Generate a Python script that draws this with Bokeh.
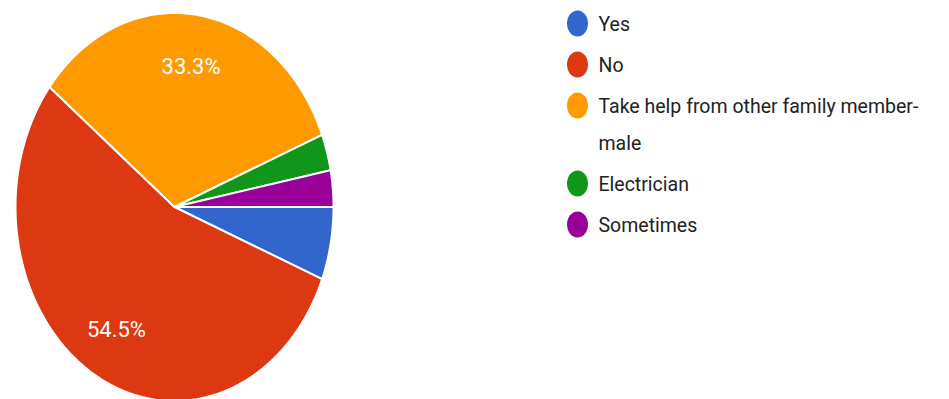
import numpy as np
from bokeh.plotting import figure
from bokeh.models import Range1d
from bokeh.core.properties import value
from bokeh.embed import file_html
from bokeh.resources import INLINE

# ---- data ----
categories = ["Yes", "No", "Take help from other family member-male", "Electrician", "Sometimes"]
counts = [2, 18, 11, 1, 1]
colors = ["#3366cc", "#dc3912", "#ff9900", "#109618", "#990099"]

# ---- layout constants ----
W, H = 949, 399
cx, cy = 174.0, 206.5
rx, ry = 159.0, 194.0
label_frac = 0.73

p = figure(width=W, height=H, output_backend="svg", toolbar_location=None,
           x_range=Range1d(0, W), y_range=Range1d(H, 0),
           min_border=0, outline_line_color=None)
p.axis.visible = False
p.grid.visible = False
p.background_fill_color = "white"
p.border_fill_color = "white"

total = float(sum(counts))
fr = np.array(counts) / total
cum = np.concatenate([[0.0], np.cumsum(fr)])

xs, ys = [], []
lx, ly, lt = [], [], []
for i in range(len(counts)):
    a0 = -cum[i] * 2 * np.pi
    a1 = -cum[i + 1] * 2 * np.pi
    th = np.linspace(a0, a1, 200)
    xs.append(np.concatenate([[cx], cx + rx * np.cos(th), [cx]]))
    ys.append(np.concatenate([[cy], cy - ry * np.sin(th), [cy]]))
    if fr[i] > 0.1:
        am = (a0 + a1) / 2
        lx.append(cx + rx * label_frac * np.cos(am))
        ly.append(cy - ry * label_frac * np.sin(am))
        lt.append(f"{fr[i]*100:.1f}%")

p.patches(xs=xs, ys=ys, fill_color=colors, line_color="white", line_width=2)
p.text(x=lx, y=ly, text=lt, text_color="white", text_font=value("Roboto"),
       text_font_size="22px", text_align="center", text_baseline="middle")

# ---- legend ----
leg_x_dot, leg_x_text = 577, 598
row_h, wrap_h = 41, 37
y = 23
dot_x, dot_y, dot_c = [], [], []
tx, ty, tt = [], [], []
for cat, col in zip(categories, colors):
    dot_x.append(leg_x_dot); dot_y.append(y); dot_c.append(col)
    if "member-" in cat:
        k = cat.index("member-") + len("member-")
        lines = [cat[:k], cat[k:]]
    else:
        lines = [cat]
    for j, ln in enumerate(lines):
        tx.append(leg_x_text); ty.append(y + 1 + j * wrap_h); tt.append(ln)
    y += row_h + (len(lines) - 1) * wrap_h

p.ellipse(x=dot_x, y=dot_y, width=21, height=26, width_units="screen",
          height_units="screen", fill_color=dot_c, line_color=None)
p.text(x=tx, y=ty, text=tt, text_color="#222222", text_font=value("Roboto"),
       text_font_size="19.5px", text_align="left", text_baseline="middle")

open("out.html", "w").write(file_html(p, INLINE))
